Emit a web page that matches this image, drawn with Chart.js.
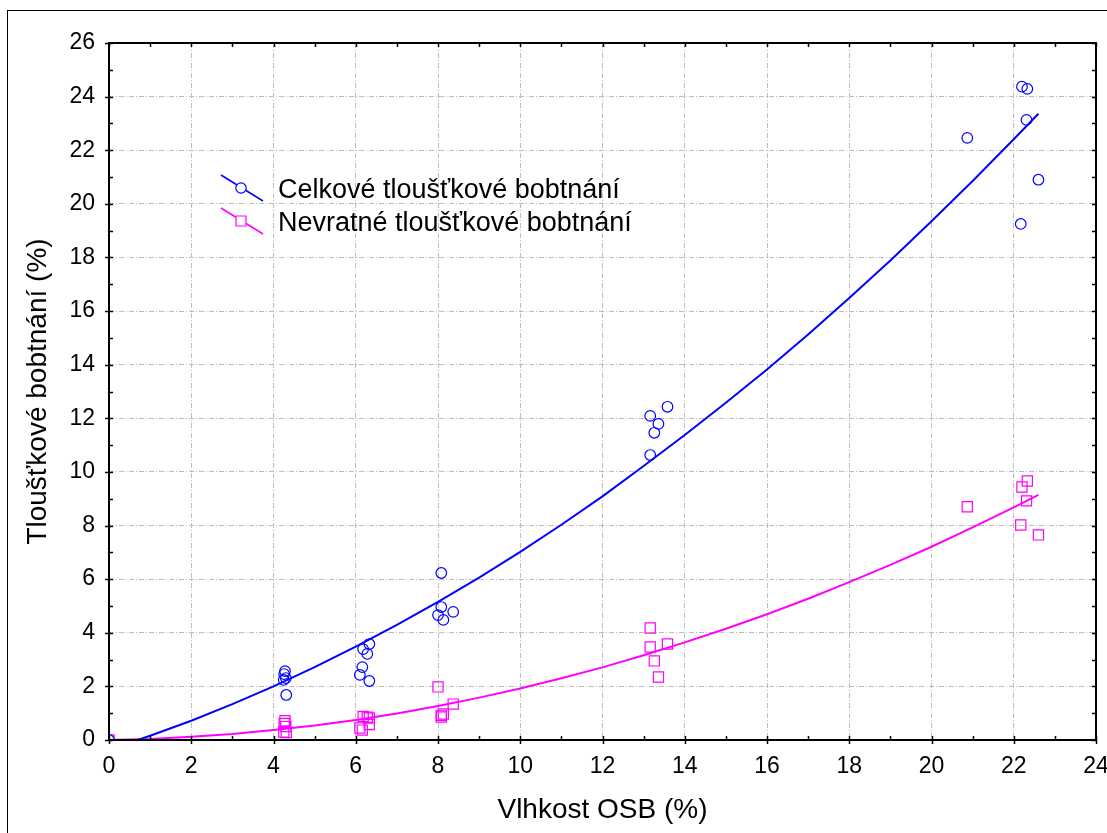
<!DOCTYPE html>
<html>
<head>
<meta charset="utf-8">
<title>Tloušťkové bobtnání OSB</title>
<script src="https://cdn.jsdelivr.net/npm/chart.js@4.4.1/dist/chart.umd.min.js"></script>
<style>
  html, body { margin: 0; padding: 0; background: #fff; }
  canvas { display: block; }
</style>
</head>
<body>
<canvas id="myChart" width="1107" height="833"></canvas>
<script>
// naměřené hodnoty: vlhkost desky a bobtnání
const moisture = [0,
  4.28, 4.26, 4.30, 4.25, 4.31,
  6.18, 6.28, 6.33, 6.16, 6.10, 6.33,
  8.08, 8.08, 8.00, 8.13, 8.37,
  13.58, 13.16, 13.36, 13.26, 13.16,
  20.87, 22.20, 22.33, 22.31, 22.60, 22.17];
const totalSwelling = [0,
  2.57, 2.46, 2.31, 2.24, 1.68,
  3.39, 3.21, 3.58, 2.72, 2.43, 2.20,
  4.96, 6.23, 4.66, 4.48, 4.78,
  12.43, 12.09, 11.79, 11.46, 10.63,
  22.46, 24.37, 24.29, 23.13, 20.90, 19.25];
const residualSwelling = [0,
  0.72, 0.62, 0.50, 0.30, 0.28,
  0.88, 0.85, 0.82, 0.37, 0.45, 0.58,
  0.86, 0.92, 1.98, 0.97, 1.34,
  3.58, 4.18, 2.35, 2.95, 3.47,
  8.70, 9.44, 9.66, 8.92, 7.65, 8.02];

// proložené křivky
const fitMoisture = [0, 0.7, 1, 2, 3, 4, 5, 6, 7, 8, 9, 10, 11, 12, 13, 14, 15, 16, 17, 18, 19, 20, 21, 22, 22.6];
const totalFit = [null, 0, 0.16, 0.72, 1.34, 2.00, 2.72, 3.48, 4.29, 5.15, 6.06, 7.02, 8.03, 9.09,
  10.22, 11.38, 12.58, 13.82, 15.13, 16.49, 17.89, 19.35, 20.85, 22.41, 23.36];
const residualFit = [0, 0.03, 0.04, 0.12, 0.22, 0.37, 0.54, 0.75, 0.99, 1.27, 1.58, 1.92, 2.30, 2.71,
  3.16, 3.64, 4.15, 4.69, 5.27, 5.89, 6.53, 7.21, 7.93, 8.68, 9.14];

const seriesNames = ['Celkové tloušťkové bobtnání', 'Nevratné tloušťkové bobtnání'];
const seriesColors = ['#0000ff', '#ff00ff'];
const xTitle = 'Vlhkost OSB (%)';
const yTitle = 'Tloušťkové bobtnání (%)';
const xRange = [0, 24];
const yRange = [0, 26];

const FONT = "'Liberation Sans', Arial, sans-serif";

const toPoints = (xs, ys) => xs.map((v, i) => ({ x: v, y: ys[i] }));

// rámeček grafu + vnitřní značky os
const plotFrame = {
  id: 'plotFrame',
  afterDraw(chart) {
    const { ctx, chartArea: a, scales: { x, y } } = chart;
    ctx.save();
    ctx.strokeStyle = '#000';
    ctx.lineWidth = 1;
    ctx.strokeRect(7.5, 10.5, chart.width + 20, chart.height + 20);

    ctx.lineWidth = 1.5;
    ctx.beginPath();
    for (let v = x.min; v <= x.max; v++) {
      const px = Math.round(x.getPixelForValue(v)) + 0.5;
      const major = v % 2 === 0;
      ctx.moveTo(px, a.bottom + (major ? 4 : 0));
      ctx.lineTo(px, a.bottom - 4);
      ctx.moveTo(px, a.top);
      ctx.lineTo(px, a.top + 4);
    }
    for (let v = y.min; v <= y.max; v++) {
      const py = Math.round(y.getPixelForValue(v)) + 0.5;
      const major = v % 2 === 0;
      ctx.moveTo(a.left - (major ? 4 : 0), py);
      ctx.lineTo(a.left + 4, py);
      ctx.moveTo(a.right, py);
      ctx.lineTo(a.right - 4, py);
    }
    ctx.stroke();

    ctx.lineWidth = 2;
    ctx.strokeRect(a.left, a.top, a.right - a.left, a.bottom - a.top);
    ctx.restore();
  }
};

// legenda uvnitř grafu (šikmá čára se značkou)
const plotLegend = {
  id: 'plotLegend',
  afterDatasetsDraw(chart) {
    const { ctx, chartArea: a } = chart;
    ctx.save();
    ctx.font = '27px ' + FONT;
    ctx.textBaseline = 'middle';
    seriesNames.forEach((name, i) => {
      const x0 = a.left + 112;
      const y0 = a.top + 132 + i * 33;
      ctx.strokeStyle = seriesColors[i];
      ctx.lineWidth = 1.5;
      ctx.beginPath();
      ctx.moveTo(x0, y0);
      ctx.lineTo(x0 + 42, y0 + 26);
      ctx.stroke();
      const mx = x0 + 20, my = y0 + 13;
      ctx.fillStyle = '#fff';
      ctx.beginPath();
      if (i === 0) {
        ctx.arc(mx, my, 5.2, 0, Math.PI * 2);
      } else {
        ctx.rect(mx - 5, my - 5, 10, 10);
      }
      ctx.fill();
      ctx.lineWidth = 1.2;
      ctx.stroke();
      ctx.fillStyle = '#000';
      ctx.fillText(name, x0 + 57, y0 + 16);
    });
    ctx.restore();
  }
};

const ctx = document.getElementById('myChart');
// eslint-disable-next-line no-unused-vars
const myChart = new Chart(ctx, {
  type: 'scatter',
  data: {
    datasets: [
      {
        label: seriesNames[0],
        data: toPoints(moisture, totalSwelling),
        pointStyle: 'circle',
        pointRadius: 5.3,
        pointBorderWidth: 1.2,
        borderColor: seriesColors[0],
        backgroundColor: 'transparent',
        clip: 0
      },
      {
        label: seriesNames[1],
        data: toPoints(moisture, residualSwelling),
        pointStyle: 'rect',
        pointRadius: 7.2,
        pointBorderWidth: 1.2,
        borderColor: seriesColors[1],
        backgroundColor: 'transparent',
        clip: 0
      },
      {
        type: 'line',
        label: seriesNames[0] + ' (fit)',
        data: toPoints(fitMoisture, totalFit),
        borderColor: seriesColors[0],
        borderWidth: 2,
        pointRadius: 0,
        tension: 0,
        fill: false,
        clip: 0
      },
      {
        type: 'line',
        label: seriesNames[1] + ' (fit)',
        data: toPoints(fitMoisture, residualFit),
        borderColor: seriesColors[1],
        borderWidth: 2,
        pointRadius: 0,
        tension: 0,
        fill: false,
        clip: 0
      }
    ]
  },
  options: {
    responsive: false,
    animation: false,
    layout: { padding: { top: 43, right: 11, left: 0, bottom: 0 } },
    plugins: {
      legend: { display: false },
      tooltip: { enabled: false }
    },
    scales: {
      x: {
        type: 'linear',
        min: xRange[0],
        max: xRange[1],
        ticks: { stepSize: 2, color: '#000', font: { family: FONT, size: 23 }, padding: 13, maxRotation: 0 },
        grid: { color: '#bdbdbd', lineWidth: 1, drawTicks: false },
        border: { display: false, dash: [5, 2, 1, 2] },
        title: { display: true, text: xTitle, color: '#000', font: { family: FONT, size: 28 }, padding: { top: 0, bottom: 6 } },
        afterFit(scale) {
          scale.height = 93;
          scale.paddingLeft = 0;
          scale.paddingRight = 0;
        }
      },
      y: {
        type: 'linear',
        min: yRange[0],
        max: yRange[1],
        ticks: { stepSize: 2, color: '#000', font: { family: FONT, size: 23 }, padding: 14 },
        grid: { color: '#bdbdbd', lineWidth: 1, drawTicks: false },
        border: { display: false, dash: [5, 2, 1, 2] },
        title: { display: true, text: yTitle, color: '#000', font: { family: FONT, size: 28 }, padding: { top: 21, bottom: 0 } },
        afterFit(scale) {
          scale.width = 109;
          scale.paddingTop = 0;
          scale.paddingBottom = 0;
        }
      }
    }
  },
  plugins: [plotLegend, plotFrame]
});
</script>
</body>
</html>
